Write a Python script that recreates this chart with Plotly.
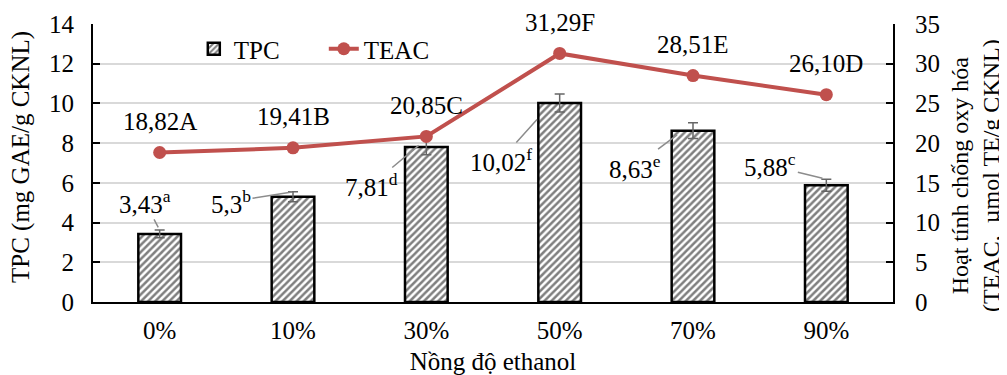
import plotly.graph_objects as go

categories = ["0%", "10%", "30%", "50%", "70%", "90%"]
tpc = [3.43, 5.3, 7.81, 10.02, 8.63, 5.88]
tpc_err = [0.2, 0.25, 0.4, 0.45, 0.4, 0.3]
tpc_labels = ["3,43", "5,3", "7,81", "10,02", "8,63", "5,88"]
tpc_sup = ["a", "b", "d", "f", "e", "c"]
teac = [18.82, 19.41, 20.85, 31.29, 28.51, 26.10]
teac_labels = ["18,82A", "19,41B", "20,85C", "31,29F", "28,51E", "26,10D"]

FONT = "Liberation Serif"
RED = "#C0504D"
FS = 25

def F(size=FS):
    return dict(family=FONT, size=size, color="black")

fig = go.Figure()
fig.add_trace(go.Bar(
    x=categories, y=tpc, name="TPC",
    marker=dict(color="white", line=dict(color="black", width=2.5),
                pattern=dict(shape="/", fgcolor="black", bgcolor="white", size=5, solidity=0.5)),
    error_y=dict(type="data", array=tpc_err, color="#666666", thickness=1.5, width=5),
    yaxis="y",
))
fig.add_trace(go.Scatter(
    x=categories, y=teac, name="TEAC", mode="lines+markers",
    line=dict(color=RED, width=4), marker=dict(color=RED, size=13),
    yaxis="y2",
))

for c, v, t in zip(categories, teac, teac_labels):
    fig.add_annotation(x=c, y=v, yref="y2", text=t,
                       showarrow=False, yshift=31, font=F())

# (ax, ay, standoff) pixel offsets of label centre from error-bar top
offsets = [(-15, -28, 3), (-62, 10, 1), (-55, 46, 10),
           (-59, 66, 34), (-58, 44, 20), (-56, -14, 4)]
for c, v, e, lab, s, (ax, ay, so) in zip(categories, tpc, tpc_err, tpc_labels, tpc_sup, offsets):
    fig.add_annotation(x=c, y=v + e, yref="y", text=lab + "<sup>" + s + "</sup>",
                       showarrow=True, ax=ax, ay=ay,
                       arrowhead=0, arrowcolor="#8c8c8c", arrowwidth=1.5, standoff=so,
                       font=F())

# axis titles
fig.add_annotation(xref="paper", yref="paper", x=0, y=0.5, xshift=-72, yshift=6,
                   xanchor="center", yanchor="middle",
                   text="TPC (mg GAE/g CKNL)", textangle=-90, showarrow=False, font=F())
fig.add_annotation(xref="paper", yref="paper", x=1, y=0.5, xshift=82, yshift=-13,
                   xanchor="center", yanchor="middle",
                   text="Hoạt tính chống oxy hóa<br>(TEAC,  µmol TE/g CKNL)",
                   textangle=-90, showarrow=False, font=F(24))

fig.update_layout(
    width=999, height=367,
    margin=dict(l=85, r=114, t=16, b=73),
    paper_bgcolor="white", plot_bgcolor="white",
    font=F(),
    bargap=0.68,
    showlegend=True,
    legend=dict(orientation="h", x=0.126, y=0.91, xanchor="left", yanchor="middle",
                bgcolor="rgba(0,0,0,0)", font=F(), itemwidth=30,
                entrywidth=85, entrywidthmode="pixels"),
    xaxis=dict(title=dict(text="Nồng độ ethanol", standoff=12, font=F()),
               showline=True, linecolor="black", linewidth=2, ticks="",
               tickfont=F(), ticklabelstandoff=5, automargin=False),
    yaxis=dict(range=[0, 14], dtick=2, showline=True, linecolor="black", linewidth=2,
               ticks="inside", ticklen=7, tickcolor="black", tickwidth=2,
               showgrid=True, gridcolor="#d9d9d9", gridwidth=2, zeroline=False,
               tickfont=F(), ticklabelstandoff=12, automargin=False),
    yaxis2=dict(range=[0, 35], dtick=5, overlaying="y", side="right",
                showline=True, linecolor="black", linewidth=2,
                ticks="inside", ticklen=7, tickcolor="black", tickwidth=2,
                showgrid=False, zeroline=False, tickfont=F(), ticklabelstandoff=15,
                automargin=False),
)

fig.write_html("out.html")
